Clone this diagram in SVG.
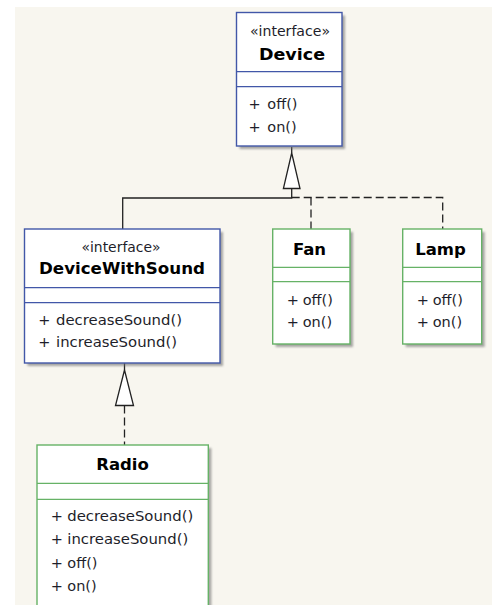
<svg xmlns="http://www.w3.org/2000/svg" width="496" height="605" viewBox="0 0 496 605">
<defs>
<filter id="sh" x="-10%" y="-10%" width="130%" height="130%"><feGaussianBlur stdDeviation="0.8"/></filter>
<style>
.bg{fill:#f8f6ef}
.shadow{fill:#6e6e6e;opacity:0.6;filter:url(#sh)}
.ibox{fill:#ffffff;stroke:#4257a8;stroke-width:1.4}
.cbox{fill:#ffffff;stroke:#66b266;stroke-width:1.4}
.isep{stroke:#4257a8;stroke-width:1.2}
.csep{stroke:#66b266;stroke-width:1.2}
.st{font-family:"DejaVu Sans",Verdana,sans-serif;font-size:13.5px;fill:#1e1e2a;text-anchor:middle}
.nm{font-family:"DejaVu Sans",Verdana,sans-serif;font-size:16.5px;font-weight:bold;fill:#000;text-anchor:middle}
.op{font-family:"DejaVu Sans",Verdana,sans-serif;font-size:14.5px;fill:#1e1e2a}
.ln{fill:none;stroke:#222;stroke-width:1.3}
.dash{fill:none;stroke:#222;stroke-width:1.3;stroke-dasharray:8,4}
.tri{fill:#fff;stroke:#222;stroke-width:1.3}
</style>
</defs>
<rect class="bg" x="15" y="7" width="477" height="598"/>

<g id="connectors">
<line class="ln" x1="291.7" y1="147" x2="291.7" y2="153"/>
<polyline class="ln" points="122.7,229 122.7,198 291.7,198 291.7,188.5"/>
<polyline class="dash" points="291.7,197.5 442.7,197.5 442.7,229"/>
<line class="dash" x1="311" y1="197.5" x2="311" y2="229"/>
<polygon class="tri" points="291.7,153 300,188.5 283.4,188.5"/>
<line class="ln" x1="124.5" y1="363" x2="124.5" y2="370"/>
<line class="dash" x1="124.5" y1="405.5" x2="124.5" y2="445"/>
<polygon class="tri" points="124.5,370 133.5,405.5 115.5,405.5"/>
</g>

<g id="Device">
<rect class="shadow" x="239.5" y="15.5" width="105.5" height="133.5"/>
<rect class="ibox" x="236.5" y="12.5" width="105.5" height="133.5"/>
<line class="isep" x1="236.5" y1="71.7" x2="342" y2="71.7"/>
<line class="isep" x1="236.5" y1="86.7" x2="342" y2="86.7"/>
<text class="st" x="290" y="35.5" textLength="80" lengthAdjust="spacingAndGlyphs">«interface»</text>
<text class="nm" x="292" y="60" textLength="66" lengthAdjust="spacingAndGlyphs">Device</text>
<text class="op" x="248.5" y="108.5">+</text>
<text class="op" x="267.3" y="108.5">off()</text>
<text class="op" x="248.5" y="131.5">+</text>
<text class="op" x="267.3" y="131.5">on()</text>
</g>

<g id="DeviceWithSound">
<rect class="shadow" x="27.5" y="232" width="195.5" height="134"/>
<rect class="ibox" x="24.5" y="229" width="195.5" height="134"/>
<line class="isep" x1="24.5" y1="287.7" x2="220" y2="287.7"/>
<line class="isep" x1="24.5" y1="302.7" x2="220" y2="302.7"/>
<text class="st" x="121" y="251.5" textLength="79" lengthAdjust="spacingAndGlyphs">«interface»</text>
<text class="nm" x="122" y="274.3" textLength="166" lengthAdjust="spacingAndGlyphs">DeviceWithSound</text>
<text class="op" x="38.3" y="325">+</text>
<text class="op" x="56" y="325" textLength="126" lengthAdjust="spacingAndGlyphs">decreaseSound()</text>
<text class="op" x="38.3" y="346.5">+</text>
<text class="op" x="56" y="346.5" textLength="121" lengthAdjust="spacingAndGlyphs">increaseSound()</text>
</g>

<g id="Fan">
<rect class="shadow" x="275.7" y="232" width="77.3" height="115"/>
<rect class="cbox" x="272.7" y="229" width="77.3" height="115"/>
<line class="csep" x1="272.7" y1="267.3" x2="350" y2="267.3"/>
<line class="csep" x1="272.7" y1="281.7" x2="350" y2="281.7"/>
<text class="nm" x="309.5" y="255">Fan</text>
<text class="op" x="286.7" y="305">+</text>
<text class="op" x="302.7" y="305">off()</text>
<text class="op" x="286.7" y="327">+</text>
<text class="op" x="302.7" y="327">on()</text>
</g>

<g id="Lamp">
<rect class="shadow" x="405.7" y="232" width="79" height="115"/>
<rect class="cbox" x="402.7" y="229" width="79" height="115"/>
<line class="csep" x1="402.7" y1="267.3" x2="481.7" y2="267.3"/>
<line class="csep" x1="402.7" y1="281.7" x2="481.7" y2="281.7"/>
<text class="nm" x="440.5" y="255">Lamp</text>
<text class="op" x="416.7" y="305">+</text>
<text class="op" x="432.7" y="305">off()</text>
<text class="op" x="416.7" y="327">+</text>
<text class="op" x="432.7" y="327">on()</text>
</g>

<g id="Radio">
<rect class="shadow" x="40" y="448" width="171.3" height="170"/>
<rect class="cbox" x="37" y="445" width="171.3" height="170"/>
<line class="csep" x1="37" y1="483.3" x2="208.3" y2="483.3"/>
<line class="csep" x1="37" y1="499.3" x2="208.3" y2="499.3"/>
<text class="nm" x="122.5" y="470">Radio</text>
<text class="op" x="50.7" y="521">+</text>
<text class="op" x="67.3" y="521" textLength="126" lengthAdjust="spacingAndGlyphs">decreaseSound()</text>
<text class="op" x="50.7" y="544.3">+</text>
<text class="op" x="67.3" y="544.3" textLength="121" lengthAdjust="spacingAndGlyphs">increaseSound()</text>
<text class="op" x="50.7" y="567.5">+</text>
<text class="op" x="67.3" y="567.5">off()</text>
<text class="op" x="50.7" y="591">+</text>
<text class="op" x="67.3" y="591">on()</text>
</g>
</svg>
